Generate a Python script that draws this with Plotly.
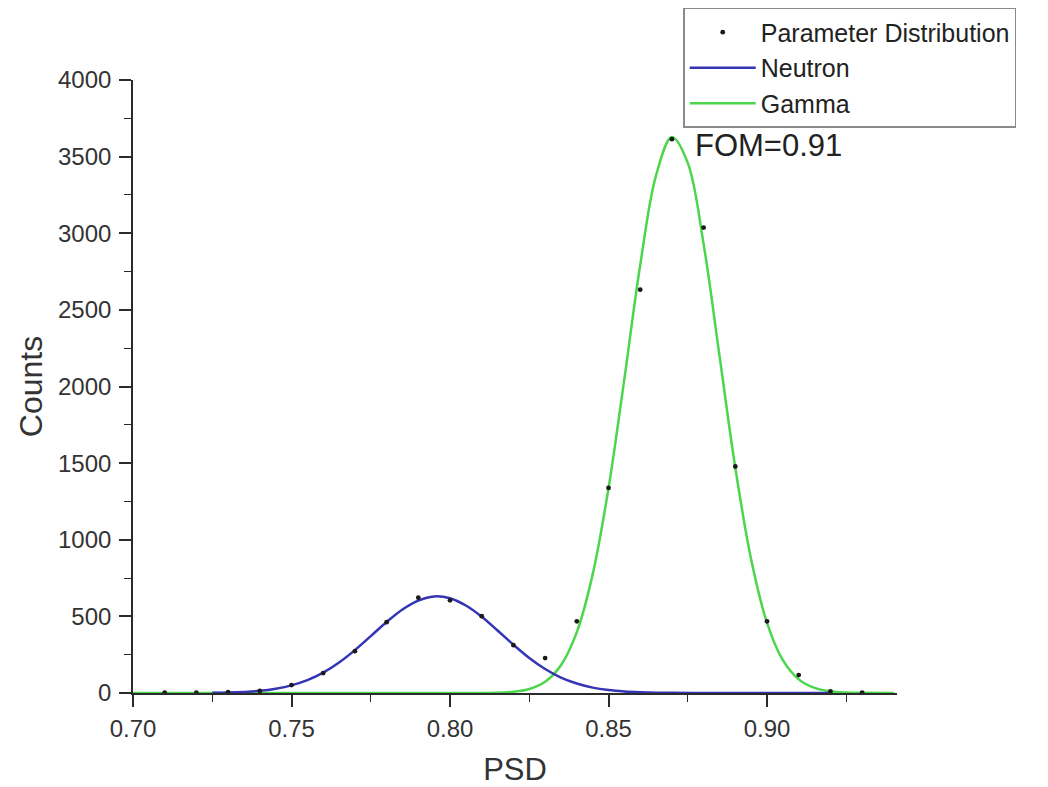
import plotly.graph_objects as go

# Measured PSD histogram (bin centres and counts)
psd_points = [0.71, 0.72, 0.73, 0.74, 0.75, 0.76, 0.77, 0.78, 0.79, 0.80, 0.81, 0.82,
              0.83, 0.84, 0.85, 0.86, 0.87, 0.88, 0.89, 0.90, 0.91, 0.92, 0.93]
count_points = [3, 2, 5, 13, 52, 130, 273, 462, 622, 605, 501, 312,
                228, 468, 1338, 2632, 3614, 3037, 1478, 468, 117, 10, 3]

# Neutron Gaussian fit curve
neutron_psd = [0.725, 0.73, 0.735, 0.74, 0.745, 0.75, 0.755, 0.76, 0.765, 0.77, 0.775,
               0.78, 0.785, 0.79, 0.795, 0.80, 0.805, 0.81, 0.815, 0.82, 0.825, 0.83,
               0.835, 0.84, 0.845, 0.85, 0.855, 0.86, 0.865, 0.87, 0.88, 0.89, 0.90,
               0.91, 0.92]
neutron_counts = [1.5, 3, 7, 14, 28, 50, 84, 133, 199, 280, 371,
                  463, 545, 603, 630, 618, 571, 498, 408, 315, 229, 157,
                  101, 62, 35, 19, 10, 5, 2, 1, 0, 0, 0,
                  0, 0]

# Gamma Gaussian fit curve
gamma_psd = [0.70, 0.75, 0.80, 0.81, 0.815, 0.82, 0.825, 0.83, 0.835, 0.84, 0.845,
             0.85, 0.855, 0.86, 0.865, 0.87, 0.875, 0.88, 0.885, 0.89, 0.895, 0.90,
             0.905, 0.91, 0.915, 0.92, 0.925, 0.93, 0.94]
gamma_counts = [0, 0, 0, 0, 1, 8, 26, 73, 181, 397, 774,
                1336, 2050, 2793, 3378, 3628, 3459, 2929, 2202, 1469, 871, 458,
                214, 89, 33, 11, 3, 1, 0]

x_ticks = [0.70, 0.75, 0.80, 0.85, 0.90]
y_ticks = [0, 500, 1000, 1500, 2000, 2500, 3000, 3500, 4000]
fom_label = "FOM=0.91"

FONT = "Liberation Sans, Arial, sans-serif"
AXIS_COLOR = "#2b2b2b"

fig = go.Figure()

fig.add_trace(go.Scatter(
    x=gamma_psd, y=gamma_counts, mode="lines", name="Gamma",
    line=dict(color="#4cd64c", width=2.5, shape="spline"),
    legendrank=3,
))
fig.add_trace(go.Scatter(
    x=neutron_psd, y=neutron_counts, mode="lines", name="Neutron",
    line=dict(color="#3434b4", width=2.5, shape="spline"),
    legendrank=2,
))
fig.add_trace(go.Scatter(
    x=psd_points, y=count_points, mode="markers", name="Parameter Distribution",
    marker=dict(color="#1a1a1a", size=4.8, symbol="circle"),
    legendrank=1,
))

fig.add_annotation(
    x=0.8765, y=3570, xref="x", yref="y", text=fom_label, showarrow=False,
    xanchor="left", yanchor="middle",
    font=dict(family=FONT, size=31, color="#222222"),
)

axis_common = dict(
    showline=True, linecolor=AXIS_COLOR, linewidth=1.6,
    ticks="outside", ticklen=12, tickwidth=1.6, tickcolor=AXIS_COLOR,
    showgrid=False, zeroline=False,
    tickfont=dict(family=FONT, size=24, color="#333333"),
)

fig.update_xaxes(
    **axis_common,
    range=[0.70, 0.941], tickvals=x_ticks, tickformat=".2f",
    minor=dict(ticks="outside", ticklen=7, tickwidth=1.4, tickcolor=AXIS_COLOR,
               tick0=0.70, dtick=0.025),
    title_text="PSD", title_standoff=22,
    title_font=dict(family=FONT, size=31, color="#333333"),
    ticklabelstandoff=1,
)
fig.update_yaxes(
    **axis_common,
    range=[0, 4000], tickvals=y_ticks,
    minor=dict(ticks="outside", ticklen=7, tickwidth=1.4, tickcolor=AXIS_COLOR,
               tick0=0, dtick=250),
    title_text="Counts", title_standoff=6,
    title_font=dict(family=FONT, size=32, color="#333333"),
    ticklabelstandoff=3,
)

fig.update_layout(
    width=1048, height=787,
    margin=dict(l=133, r=151, t=80, b=94, autoexpand=False),
    paper_bgcolor="white", plot_bgcolor="white",
    showlegend=True,
    legend=dict(
        x=0.7202, y=1.1175, xanchor="left", yanchor="top",
        bgcolor="white", bordercolor="#8a8a8a", borderwidth=1.5,
        font=dict(family=FONT, size=25, color="#222222"),
        itemwidth=66, tracegroupgap=0,
    ),
)

fig.write_html("out.html")
